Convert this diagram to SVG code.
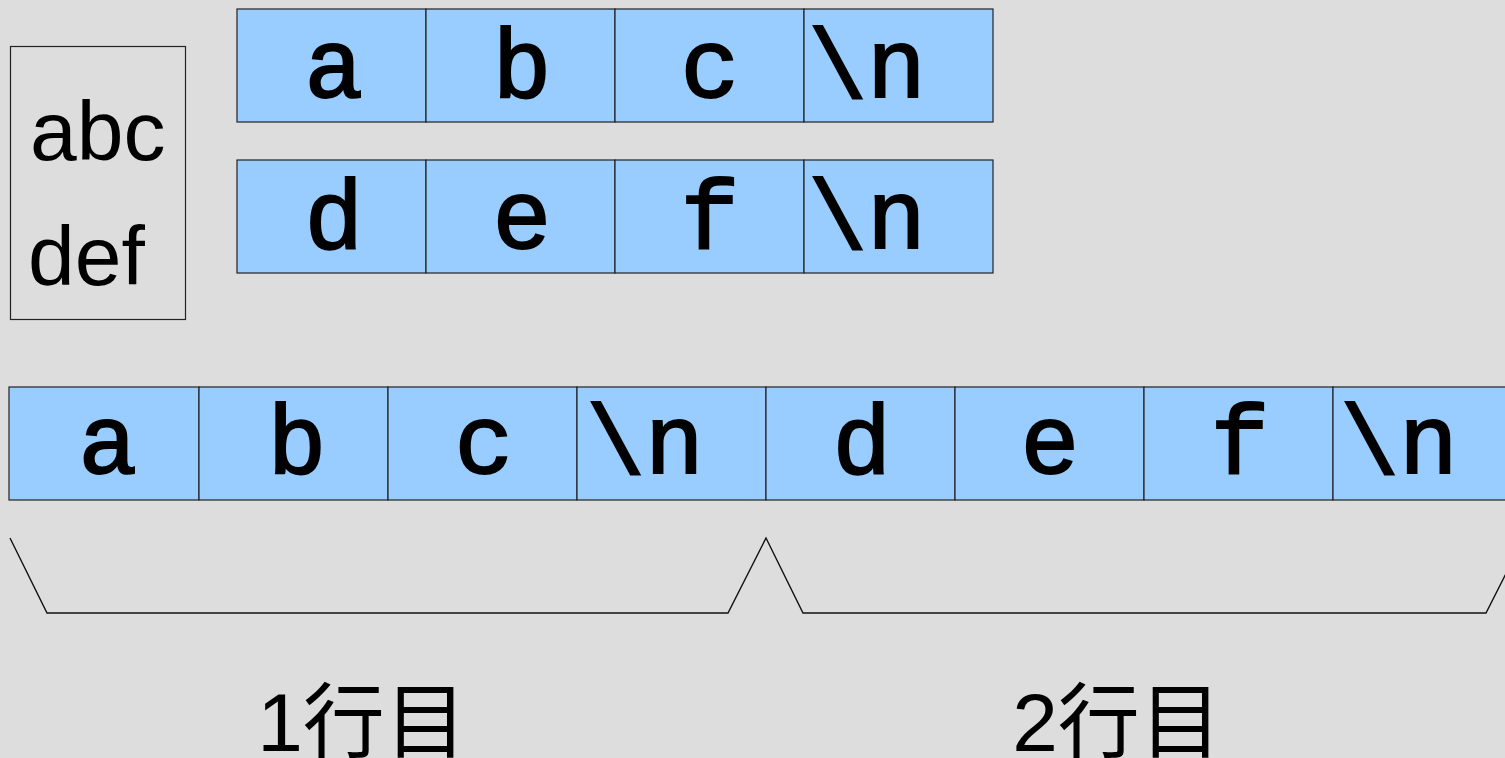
<svg xmlns="http://www.w3.org/2000/svg" width="1505" height="758" viewBox="0 0 1505 758">
<style>
.cell{fill:#99ccff;stroke:#222;stroke-width:1.2}
.ch{font-family:"Liberation Mono","Courier New",monospace;font-size:98px;fill:#000;stroke:#000;stroke-width:2;text-anchor:middle}
.big{font-family:"Liberation Sans",Arial,sans-serif;font-size:84px;fill:#000}
.lbl{font-family:"Liberation Sans","Noto Sans CJK JP",sans-serif;font-size:82px;fill:#000;text-anchor:middle}
</style>
<rect width="1505" height="758" fill="#dddddd"/>
<g id="source">
<rect x="10.5" y="46.5" width="175" height="273" fill="none" stroke="#222" stroke-width="1.2"/>
<text class="big" x="30" y="160">abc</text>
<text class="big" x="28" y="285">def</text>
</g>
<g id="row1">
<rect class="cell" x="237" y="9" width="189" height="113"/><text class="ch" x="334" y="97">a</text>
<rect class="cell" x="426" y="9" width="189" height="113"/><text class="ch" x="522" y="97">b</text>
<rect class="cell" x="615" y="9" width="189" height="113"/><text class="ch" x="710" y="97">c</text>
<rect class="cell" x="804" y="9" width="189" height="113"/><text class="ch" x="867" y="97">\n</text>
</g>
<g id="row2">
<rect class="cell" x="237" y="160" width="189" height="113"/><text class="ch" x="334" y="248">d</text>
<rect class="cell" x="426" y="160" width="189" height="113"/><text class="ch" x="522" y="248">e</text>
<rect class="cell" x="615" y="160" width="189" height="113"/><text class="ch" x="710" y="248">f</text>
<rect class="cell" x="804" y="160" width="189" height="113"/><text class="ch" x="867" y="248">\n</text>
</g>
<g id="stream">
<rect class="cell" x="9" y="387" width="190" height="113"/><text class="ch" x="108" y="473">a</text>
<rect class="cell" x="199" y="387" width="189" height="113"/><text class="ch" x="297" y="473">b</text>
<rect class="cell" x="388" y="387" width="189" height="113"/><text class="ch" x="484" y="473">c</text>
<rect class="cell" x="577" y="387" width="189" height="113"/><text class="ch" x="645" y="473">\n</text>
<rect class="cell" x="766" y="387" width="189" height="113"/><text class="ch" x="862" y="473">d</text>
<rect class="cell" x="955" y="387" width="189" height="113"/><text class="ch" x="1050" y="473">e</text>
<rect class="cell" x="1144" y="387" width="189" height="113"/><text class="ch" x="1240" y="473">f</text>
<rect class="cell" x="1333" y="387" width="189" height="113"/><text class="ch" x="1399" y="473">\n</text>
</g>
<g id="connectors">
<polyline points="10,538 47,613 728,613 766,538 803,613 1486,613 1524,538" fill="none" stroke="#111" stroke-width="1.4"/>
</g>
<g id="labels">
<text class="lbl" x="362" y="751">1行目</text>
<text class="lbl" x="1117" y="751">2行目</text>
</g>
</svg>
